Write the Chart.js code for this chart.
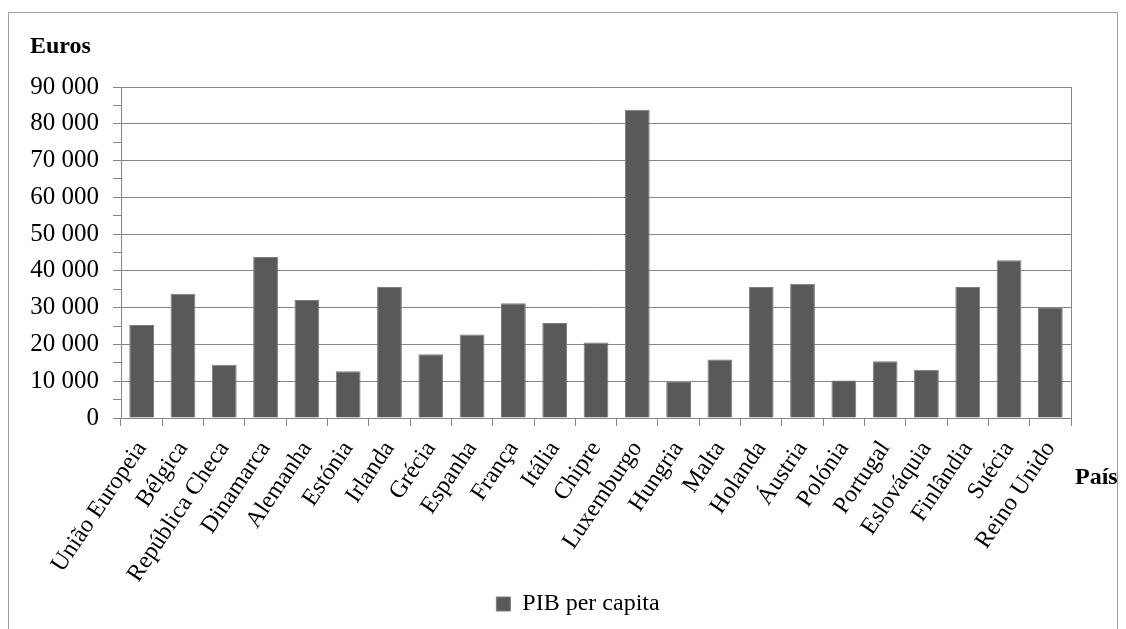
<!DOCTYPE html>
<html>
<head>
<meta charset="utf-8">
<title>PIB per capita</title>
<script src="https://cdn.jsdelivr.net/npm/chart.js@4.4.1/dist/chart.umd.min.js"></script>
<style>
  html, body { margin: 0; padding: 0; background: #ffffff; }
  #wrap { position: relative; width: 1126px; height: 629px; }
</style>
</head>
<body>
<div id="wrap"><canvas id="chart" width="1126" height="629"></canvas></div>
<script>
// Países (eixo das categorias)
const categories = [
  'União Europeia', 'Bélgica', 'República Checa', 'Dinamarca', 'Alemanha',
  'Estónia', 'Irlanda', 'Grécia', 'Espanha', 'França', 'Itália', 'Chipre',
  'Luxemburgo', 'Hungria', 'Malta', 'Holanda', 'Áustria', 'Polónia',
  'Portugal', 'Eslováquia', 'Finlândia', 'Suécia', 'Reino Unido'
];

// PIB per capita, em euros
const pibPerCapita = [
  25300, 33800, 14500, 43800, 32100,
  12700, 35600, 17300, 22700, 31200, 25800, 20500,
  83800, 9800, 15900, 35600, 36500, 10200,
  15400, 13100, 35600, 42900, 29900
];

// Eixo dos valores: marcas principais com rótulo e marcas secundárias sem rótulo
const yMin = 0;
const yMax = 90000;
const yMajorStep = 10000;
const yMinorStep = 5000;

const seriesName = 'PIB per capita';
const yTitle = 'Euros';
const xTitle = 'País';

const SERIF = "'Liberation Serif', 'Times New Roman', serif";
const GRID = '#868686';

Chart.defaults.font.family = SERIF;
Chart.defaults.color = '#000000';

function groupThousands(v) {
  return String(v).replace(/\B(?=(\d{3})+(?!\d))/g, ' ');
}

// Moldura exterior, borda direita da área do gráfico, títulos dos eixos
// e posição horizontal da legenda
const decorations = {
  id: 'decorations',
  afterLayout(chart) {
    const lg = chart.legend;
    const area = chart.chartArea;
    if (!lg) return;
    const target = (area.left + area.right) / 2 - 18;
    const dx = target - (lg.left + lg.right) / 2;
    lg.left += dx;
    lg.right += dx;
  },
  beforeDraw(chart) {
    const ctx = chart.ctx;
    ctx.save();
    ctx.fillStyle = '#ffffff';
    ctx.fillRect(0, 0, chart.width, chart.height);
    ctx.strokeStyle = '#a0a0a0';
    ctx.lineWidth = 1;
    ctx.strokeRect(8.5, 12.5, 1109, chart.height + 20);
    ctx.restore();
  },
  afterDraw(chart) {
    const ctx = chart.ctx;
    const area = chart.chartArea;
    ctx.save();
    ctx.strokeStyle = GRID;
    ctx.lineWidth = 1;
    ctx.beginPath();
    ctx.moveTo(Math.round(area.right) + 0.5, area.top);
    ctx.lineTo(Math.round(area.right) + 0.5, area.bottom + 8);
    ctx.stroke();

    ctx.fillStyle = '#000000';
    ctx.font = 'bold 24px ' + SERIF;
    ctx.textAlign = 'left';
    ctx.textBaseline = 'alphabetic';
    ctx.fillText(yTitle, 30, 53);
    ctx.fillText(xTitle, area.right + 4, area.bottom + 66);
    ctx.restore();
  }
};

new Chart(document.getElementById('chart'), {
  type: 'bar',
  data: {
    labels: categories,
    datasets: [{
      label: seriesName,
      data: pibPerCapita,
      backgroundColor: '#595959',
      borderColor: '#7c7c7c',
      borderWidth: 1,
      categoryPercentage: 0.6,
      barPercentage: 1.0
    }]
  },
  options: {
    responsive: false,
    animation: false,
    devicePixelRatio: 1,
    layout: { padding: { top: 87, right: 55, left: 0, bottom: 3 } },
    plugins: {
      tooltip: { enabled: false },
      legend: {
        position: 'bottom',
        labels: {
          font: { size: 24, family: SERIF },
          color: '#000000',
          boxWidth: 14,
          boxHeight: 14,
          padding: 10
        }
      }
    },
    scales: {
      x: {
        type: 'category',
        afterFit(scale) { scale.height = 164; },
        border: { color: GRID, width: 1 },
        grid: {
          offset: true,
          drawOnChartArea: false,
          drawTicks: true,
          tickLength: 8,
          color: GRID
        },
        ticks: {
          autoSkip: false,
          minRotation: 56,
          maxRotation: 56,
          padding: 10,
          color: '#000000',
          font: { size: 24, family: SERIF }
        }
      },
      y: {
        min: yMin,
        max: yMax,
        afterFit(scale) { scale.width = 121; },
        border: { color: GRID, width: 1 },
        grid: {
          color: (c) => (c.tick && c.tick.value % yMajorStep === 0) ? GRID : 'rgba(0,0,0,0)',
          tickColor: GRID,
          tickLength: 8,
          lineWidth: 1
        },
        ticks: {
          stepSize: yMinorStep,
          maxTicksLimit: 40,
          autoSkip: false,
          padding: 14,
          color: '#000000',
          font: { size: 25, family: SERIF },
          callback: (v) => (v % yMajorStep === 0) ? groupThousands(v) : ''
        }
      }
    }
  },
  plugins: [decorations]
});
</script>
</body>
</html>
